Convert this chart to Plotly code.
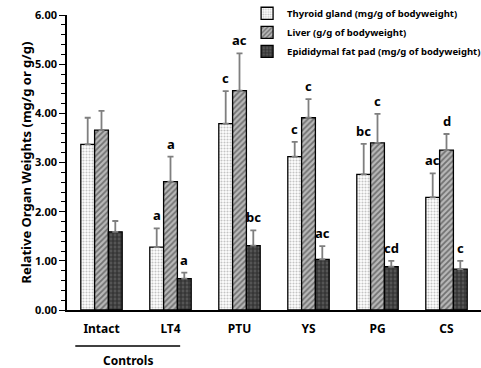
import plotly.graph_objects as go

groups = ["Intact", "LT4", "PTU", "YS", "PG", "CS"]
series_names = [
    "Thyroid gland (mg/g of bodyweight)",
    "Liver (g/g of bodyweight)",
    "Epididymal fat pad (mg/g of bodyweight)",
]
thyroid = [3.37, 1.28, 3.79, 3.12, 2.76, 2.29]
thyroid_err = [0.54, 0.38, 0.66, 0.30, 0.62, 0.49]
liver = [3.66, 2.61, 4.46, 3.91, 3.40, 3.25]
liver_err = [0.39, 0.51, 0.76, 0.38, 0.59, 0.33]
fat = [1.59, 0.64, 1.31, 1.03, 0.88, 0.83]
fat_err = [0.22, 0.12, 0.31, 0.27, 0.12, 0.17]
thyroid_sig = ["", "a", "c", "c", "bc", "ac"]
liver_sig = ["", "a", "ac", "c", "c", "d"]
fat_sig = ["", "a", "bc", "ac", "cd", "c"]
y_ticks = [0, 1, 2, 3, 4, 5, 6]
y_ticklabels = ["0.00", "1.00", "2.00", "3.00", "4.00", "5.00", "6.00"]

FONT = "Noto Sans"
values = [thyroid, liver, fat]
errs = [thyroid_err, liver_err, fat_err]
sigs = [thyroid_sig, liver_sig, fat_sig]
patterns = [
    dict(shape=".", fgcolor="#8a8a8a", bgcolor="white", size=3, solidity=0.4),
    dict(shape="/", fgcolor="#2a2a2a", bgcolor="#b8b8b8", size=4, solidity=0.45),
    dict(shape="+", fgcolor="#0a0a0a", bgcolor="#555555", size=4, solidity=0.5),
]

fig = go.Figure()
for name, v, e, p in zip(series_names, values, errs, patterns):
    fig.add_trace(go.Bar(
        x=groups, y=v, name=name,
        marker=dict(color=p["bgcolor"], pattern=p,
                    line=dict(color="black", width=1.3)),
        error_y=dict(type="data", array=e, arrayminus=[0] * len(e), symmetric=False,
                     color="#7f7f7f", thickness=1.8, width=3),
    ))

bar_px = 69 * 0.6 / 3
for si, (v, e, s) in enumerate(zip(values, errs, sigs)):
    for gi, g in enumerate(groups):
        if s[gi]:
            fig.add_annotation(x=g, y=v[gi] + e[gi], text="<b>" + s[gi] + "</b>",
                               showarrow=False, xshift=(si - 1) * bar_px, yshift=2,
                               yanchor="bottom", font=dict(size=13, color="black", family=FONT))

fig.add_shape(type="line", xref="x", yref="paper", x0=-0.38, x1=1.14, y0=-0.122, y1=-0.122,
              line=dict(color="black", width=1.5))
fig.add_annotation(x=0.38, xref="x", y=-0.17, yref="paper", yanchor="middle",
                   text="<b>Controls</b>", showarrow=False,
                   font=dict(size=12, color="black", family=FONT))
fig.add_annotation(x=-0.128, xref="paper", y=0.5, yref="paper", textangle=-90,
                   text="<b>Relative Organ Weights (mg/g or g/g)</b>", showarrow=False,
                   font=dict(size=13, color="black", family=FONT))

fig.update_layout(
    width=481, height=368,
    margin=dict(l=67, r=0, t=15, b=58, autoexpand=False),
    paper_bgcolor="white", plot_bgcolor="white",
    barmode="group", bargap=0.4, bargroupgap=0,
    font=dict(family=FONT, color="black"),
    showlegend=True,
    legend=dict(x=0.435, y=1.055, xanchor="left", yanchor="top",
                font=dict(size=9.5, family=FONT, color="black", weight="bold"),
                bgcolor="rgba(0,0,0,0)", itemwidth=30, tracegroupgap=0),
    xaxis=dict(showline=True, linecolor="black", linewidth=1.5, ticks="",
               ticklabelstandoff=7,
               tickfont=dict(size=12, family=FONT, weight="bold"), showgrid=False),
    yaxis=dict(range=[0, 6], tickvals=y_ticks, ticktext=y_ticklabels, showline=True,
               linecolor="black", linewidth=1.5, ticks="outside", ticklen=6, tickwidth=1.2,
               tickcolor="black",
               minor=dict(dtick=0.2, ticks="outside", ticklen=4, tickwidth=1, tickcolor="black"),
               tickfont=dict(size=11, family=FONT, weight="bold"), showgrid=False, zeroline=False),
)

fig.write_html("out.html")
